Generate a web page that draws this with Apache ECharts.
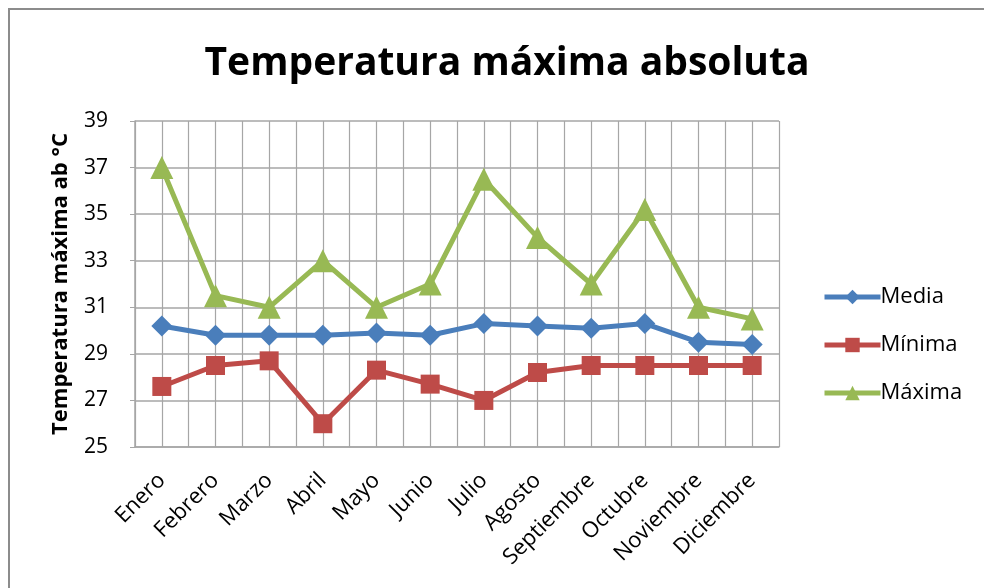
<!DOCTYPE html>
<html>
<head>
<meta charset="utf-8">
<script src="https://cdn.jsdelivr.net/npm/echarts@6/dist/echarts.min.js"></script>
<style>
  html, body { margin: 0; padding: 0; background: #fff; }
  #chart { width: 984px; height: 588px; }
</style>
</head>
<body>
<div id="chart"></div>
<script>
  const meses = ['Enero', 'Febrero', 'Marzo', 'Abril', 'Mayo', 'Junio', 'Julio',
    'Agosto', 'Septiembre', 'Octubre', 'Noviembre', 'Diciembre']
  const media = [30.2, 29.8, 29.8, 29.8, 29.9, 29.8, 30.3, 30.2, 30.1, 30.3, 29.5, 29.4]
  const minima = [27.6, 28.5, 28.7, 26.0, 28.3, 27.7, 27.0, 28.2, 28.5, 28.5, 28.5, 28.5]
  const maxima = [37, 31.5, 31, 33, 31, 32, 36.5, 34, 32, 35.2, 31, 30.5]
  // half-category slots, only used to draw the denser vertical grid
  const mediosMeses = meses.flatMap(m => [m + '-a', m + '-b'])

  const fuente = '"Open Sans", "Noto Sans", sans-serif'
  const gris = '#a6a6a6'

  const chart = echarts.init(document.getElementById('chart'))

  const option = {
    animation: false,
    color: ['#4a7ebb', '#be4b48', '#98b954'],
    title: {
      text: 'Temperatura máxima absoluta',
      left: 502,
      textAlign: 'center',
      top: 39,
      textStyle: { fontFamily: fuente, fontSize: 39, fontWeight: 'bold', color: '#000' }
    },
    graphic: [{
      type: 'rect',
      shape: { x: 9, y: 9, width: 1000, height: 600 },
      style: { fill: 'none', stroke: '#8c8c8c', lineWidth: 2 },
      silent: true
    }],
    legend: {
      orient: 'vertical',
      left: 817,
      top: 281,
      itemWidth: 56,
      itemHeight: 18,
      itemGap: 26,
      lineStyle: { width: 5 },
      textStyle: { fontFamily: fuente, fontSize: 22, color: '#000', padding: [0, 0, 0, -5] },
      data: ['Media', 'Mínima', 'Máxima']
    },
    grid: { left: 135, right: 205, top: 121, bottom: 141 },
    xAxis: [{
      type: 'category',
      data: meses,
      boundaryGap: true,
      axisLine: { lineStyle: { color: gris, width: 1.5 } },
      axisTick: { show: false },
      splitLine: { show: false },
      axisLabel: {
        interval: 0,
        rotate: 45,
        margin: 30,
        fontFamily: fuente,
        fontSize: 22,
        color: '#000'
      }
    }, {
      type: 'category',
      data: mediosMeses,
      boundaryGap: true,
      position: 'bottom',
      axisLine: { show: false },
      axisTick: { show: false },
      axisLabel: { show: false },
      splitLine: { show: true, interval: 0, lineStyle: { color: gris, width: 1.2 } }
    }],
    yAxis: {
      type: 'value',
      min: 25,
      max: 39,
      interval: 2,
      name: 'Temperatura máxima ab °C',
      nameLocation: 'middle',
      nameGap: 63,
      nameTextStyle: { fontFamily: fuente, fontSize: 22, fontWeight: 'bold', color: '#000' },
      axisLine: { show: true, lineStyle: { color: gris, width: 1.5 } },
      axisTick: { show: true, length: 5, lineStyle: { color: gris } },
      splitLine: { show: true, lineStyle: { color: gris, width: 1.5 } },
      axisLabel: { margin: 27, fontFamily: fuente, fontSize: 21, color: '#000' }
    },
    series: [{
      name: 'Media',
      type: 'line',
      data: media,
      symbol: 'diamond',
      symbolSize: 21,
      lineStyle: { width: 5 }
    }, {
      name: 'Mínima',
      type: 'line',
      data: minima,
      symbol: 'rect',
      symbolSize: 19,
      lineStyle: { width: 5 }
    }, {
      name: 'Máxima',
      type: 'line',
      data: maxima,
      symbol: 'triangle',
      symbolSize: 23,
      lineStyle: { width: 5 }
    }]
  }

  chart.setOption(option, true)
</script>
</body>
</html>
